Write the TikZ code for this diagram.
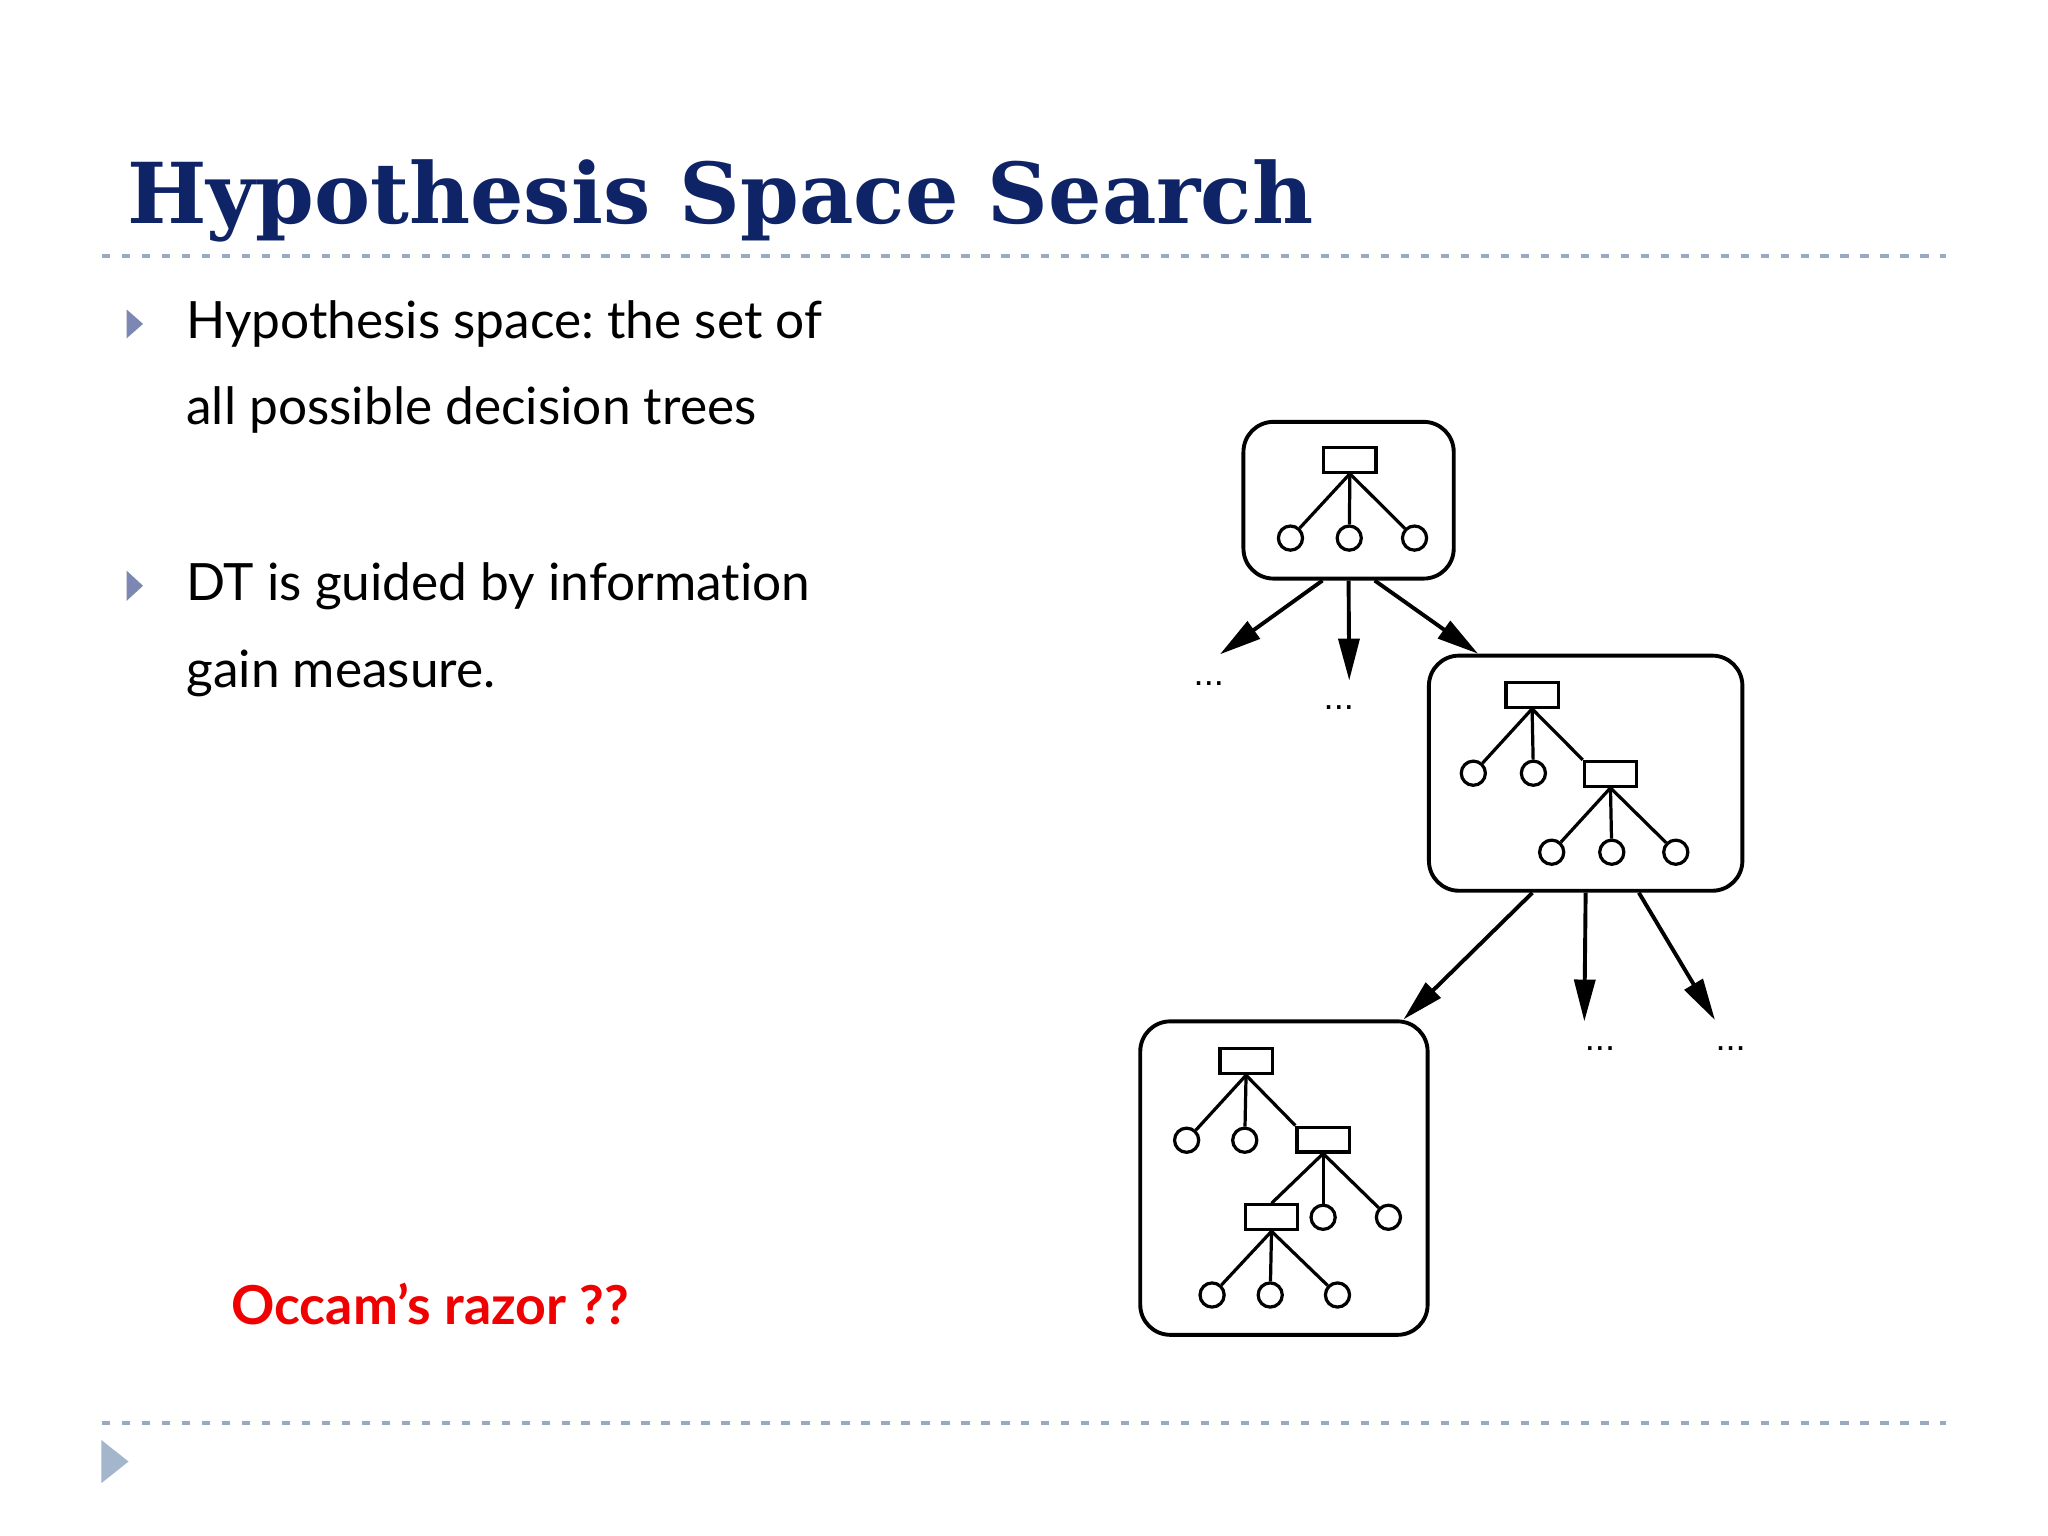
\documentclass[tikz,border=0pt]{standalone}
\usepackage{fontspec}
\usepackage{graphicx}
\setmainfont{Lato}[Ligatures=NoCommon]
\newfontfamily\titlefont{DejaVu Serif}
\newfontfamily\ellipfont{Liberation Sans}
\usetikzlibrary{arrows.meta,positioning}
\definecolor{titleblue}{RGB}{14,36,102}
\definecolor{rulegray}{RGB}{152,170,194}
\definecolor{bulletblue}{RGB}{125,136,178}
\definecolor{navtri}{RGB}{163,182,204}
\definecolor{occamred}{RGB}{240,0,0}
\frenchspacing

\begin{document}
\begin{tikzpicture}[hyp/.style={shape=rectangle,draw,rounded corners=0.23cm,line width=0.85pt,inner sep=0},
	test/.style={shape=rectangle,draw,line width=0.7pt,minimum width=0.40cm,minimum height=0.19cm,inner sep=0},
	leaf/.style={shape=circle,draw,line width=0.7pt,minimum size=0.185cm,inner sep=0},
	edgeline/.style={line width=0.7pt},
	expand/.style={->,line width=0.85pt},
	ellip/.style={inner sep=0,font={\ellipfont\fontsize{7.9}{9}\selectfont}},
	body/.style={anchor=base west,inner sep=0,font={\fontsize{11.2}{13}\selectfont}},
	dashrule/.style={rulegray,line width=0.025cm,dash pattern=on 0.064cm off 0.089cm},
	>={Triangle[length=0.32cm,width=0.16cm]}]
				\fill[white] (0,0) rectangle (15.68,11.76);
				\useasboundingbox (0,0) rectangle (15.68,11.76);
				% title and rules
				\node[anchor=base west,inner sep=0,text=titleblue] (title) at (0.967,10.05) {\resizebox{9.08cm}{\height}{\titlefont\bfseries\fontsize{18.3}{20}\selectfont Hypothesis Space Search}};
				\draw[dashrule] (0.78,9.80) -- (14.90,9.80);
				\draw[dashrule] (0.78,0.866) -- (14.90,0.866);
				\fill[navtri] (0.777,0.405) -- (0.984,0.57) -- (0.777,0.734) -- cycle;
				% bullets
				\fill[bulletblue] (0.97,9.17) -- (1.095,9.28) -- (0.97,9.39) -- cycle;
				\node[body] (p1) at (1.42,9.167) {Hypothesis space: the set of};
				\node[body] (p1b) at (1.42,8.506) {all possible decision trees};
				\fill[bulletblue] (0.97,7.16) -- (1.095,7.275) -- (0.97,7.39) -- cycle;
				\node[body] (p2) at (1.42,7.16) {DT is guided by information};
				\node[body] (p2b) at (1.42,6.493) {gain measure.};
				\node[body,font={\bfseries\fontsize{11.7}{13}\selectfont},text=occamred] (occam) at (1.764,1.62) {Occam’s razor ??};
				% first hypothesis
				\node[hyp,minimum width=1.61cm,minimum height=1.20cm] (h1) at (10.325,7.93) {};
				\node[test] (t1) at (10.335,8.24) {};
				\node[leaf] (l11) at (9.88,7.64) {};
				\node[leaf] (l12) at (10.33,7.64) {};
				\node[leaf] (l13) at (10.83,7.64) {};
				\draw[edgeline] (t1.south) to (l11);
				\draw[edgeline] (t1.south) to (l12);
				\draw[edgeline] (t1.south) to (l13);
				% second hypothesis
				\node[hyp,minimum width=2.40cm,minimum height=1.80cm] (h2) at (12.14,5.84) {};
				\node[test] (t21) at (11.73,6.44) {};
				\node[leaf] (l21) at (11.28,5.84) {};
				\node[leaf] (l22) at (11.74,5.84) {};
				\node[test] (t22) at (12.33,5.835) {};
				\node[leaf] (l23) at (11.88,5.235) {};
				\node[leaf] (l24) at (12.34,5.235) {};
				\node[leaf] (l25) at (12.83,5.235) {};
				\draw[edgeline] (t21.south) to (l21);
				\draw[edgeline] (t21.south) to (l22);
				\draw[edgeline] (t21.south) to (t22.north west);
				\draw[edgeline] (t22.south) to (l23);
				\draw[edgeline] (t22.south) to (l24);
				\draw[edgeline] (t22.south) to (l25);
				% third hypothesis
				\node[hyp,minimum width=2.20cm,minimum height=2.40cm] (h3) at (9.83,2.74) {};
				\node[test] (t31) at (9.54,3.635) {};
				\node[leaf] (l31) at (9.085,3.03) {};
				\node[leaf] (l32) at (9.53,3.03) {};
				\node[test] (t32) at (10.13,3.035) {};
				\node[test] (t33) at (9.735,2.44) {};
				\node[leaf] (l33) at (10.13,2.44) {};
				\node[leaf] (l34) at (10.63,2.44) {};
				\node[leaf] (l35) at (9.28,1.845) {};
				\node[leaf] (l36) at (9.725,1.845) {};
				\node[leaf] (l37) at (10.24,1.845) {};
				\draw[edgeline] (t31.south) to (l31);
				\draw[edgeline] (t31.south) to (l32);
				\draw[edgeline] (t31.south) to (t32.north west);
				\draw[edgeline] (t32.south) to (t33.north);
				\draw[edgeline] (t32.south) to (l33);
				\draw[edgeline] (t32.south) to (l34);
				\draw[edgeline] (t33.south) to (l35);
				\draw[edgeline] (t33.south) to (l36);
				\draw[edgeline] (t33.south) to (l37);
				% search steps
				\coordinate (e11) at (9.34,6.75);
				\coordinate (e12) at (10.33,6.55);
				\coordinate (e22) at (12.13,3.94);
				\coordinate (e23) at (13.13,3.95);
				\draw[expand] (h1.-108) to (e11);
				\draw[expand] (h1.south) to (e12);
				\draw[expand] (h1.-72) to (h2.132);
				\draw[expand] (h2.-114.5) to (h3.53);
				\draw[expand] (h2.south) to (e22);
				\draw[expand] (h2.-66.6) to (e23);
				\node[ellip] (d1) at (9.255,6.53) {...};
				\node[ellip] (d2) at (10.25,6.34) {...};
				\node[ellip] (d3) at (12.25,3.73) {...};
				\node[ellip] (d4) at (13.25,3.73) {...};
			\end{tikzpicture}
\end{document}
